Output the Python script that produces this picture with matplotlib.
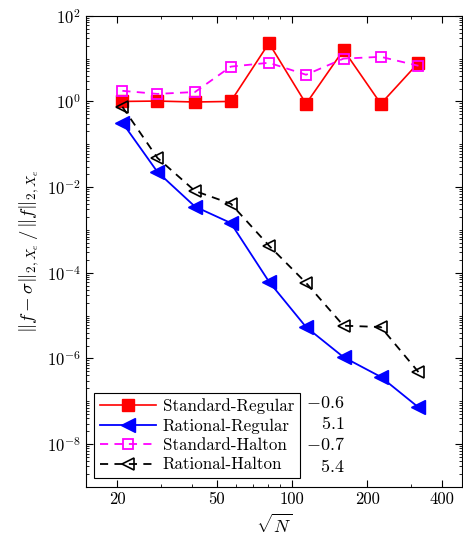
import matplotlib
matplotlib.use("Agg")
import matplotlib.pyplot as plt
from matplotlib.ticker import FixedLocator, FixedFormatter, LogLocator, NullFormatter, LogFormatterMathtext

plt.rcParams['font.family'] = 'serif'
plt.rcParams['font.serif'] = ['cmr10']
plt.rcParams['mathtext.fontset'] = 'cm'
plt.rcParams['axes.unicode_minus'] = False
plt.rcParams['axes.formatter.use_mathtext'] = True

# sqrt(N) values
sqrt_n = [21, 29, 41, 57, 81, 114, 161, 227, 321]

# relative errors
standard_regular = [1.0, 1.02, 0.97, 1.0, 23, 0.88, 16, 0.88, 8.0]
rational_regular = [0.32, 0.0226, 0.0035, 0.00145, 6.2e-5, 5.4e-6, 1.07e-6, 3.7e-7, 7.2e-8]
standard_halton = [1.77, 1.5, 1.66, 6.5, 8.0, 4.2, 10, 11, 6.8]
rational_halton = [0.75, 0.048, 0.0081, 0.0041, 4.3e-4, 5.8e-5, 5.8e-6, 5.4e-6, 4.8e-7]

labels = ['Standard-Regular', 'Rational-Regular', 'Standard-Halton', 'Rational-Halton']
slopes = ['$-0.6$', '$5.1$', '$-0.7$', '$5.4$']

fig = plt.figure(figsize=(4.64, 5.44), dpi=100)
ax = fig.add_axes([0.185, 0.105, 0.811, 0.866])

ax.loglog(sqrt_n, standard_regular, '-', color='red', marker='s', markersize=8,
          linewidth=1.2, label=labels[0])
ax.loglog(sqrt_n, rational_regular, '-', color='blue', marker='<', markersize=10,
          linewidth=1.3, label=labels[1])
ax.loglog(sqrt_n, standard_halton, '--', color='magenta', marker='s', markersize=7,
          markerfacecolor='none', markeredgewidth=1.3, linewidth=1.3,
          dashes=(4.5, 3.5), label=labels[2])
ax.loglog(sqrt_n, rational_halton, '--', color='black', marker='<', markersize=9,
          markerfacecolor='none', markeredgewidth=1.2, linewidth=1.3,
          dashes=(4.5, 3.5), label=labels[3])

ax.set_xlim(15, 480)
ax.set_ylim(1e-9, 1e2)

ax.xaxis.set_major_locator(FixedLocator([20, 50, 100, 200, 400]))
ax.xaxis.set_major_formatter(FixedFormatter(['20', '50', '100', '200', '400']))
ax.xaxis.set_minor_locator(FixedLocator([30, 40, 60, 70, 80, 90, 300]))
ax.xaxis.set_minor_formatter(NullFormatter())

ax.yaxis.set_major_locator(FixedLocator([1e-8, 1e-6, 1e-4, 1e-2, 1e0, 1e2]))
ax.yaxis.set_major_formatter(LogFormatterMathtext())
ax.yaxis.set_minor_locator(LogLocator(base=10, subs=range(1, 10), numticks=50))
ax.yaxis.set_minor_formatter(NullFormatter())

ax.tick_params(which='both', direction='in', top=True, right=True, labelsize=12)
ax.tick_params(which='major', length=5)
ax.tick_params(which='minor', length=2.5)

ax.set_xlabel(r'$\sqrt{N}$', fontsize=13)
ax.set_ylabel(r'$\|f-\sigma\|_{2,X_e}\,/\,\|f\|_{2,X_e}$', fontsize=13.5)

leg = ax.legend(loc='lower left', fontsize=12.2, fancybox=False, edgecolor='black',
                framealpha=1, handlelength=3.3, handletextpad=0.4,
                labelspacing=0.24, borderaxespad=0.5, borderpad=0.35)
leg.get_frame().set_linewidth(0.8)

slope_y = [0.178, 0.134, 0.089, 0.044]
for s, yy in zip(slopes, slope_y):
    ax.text(0.688, yy, s, transform=ax.transAxes, ha='right', va='center', fontsize=13)

fig.savefig('out.png', dpi=100)
